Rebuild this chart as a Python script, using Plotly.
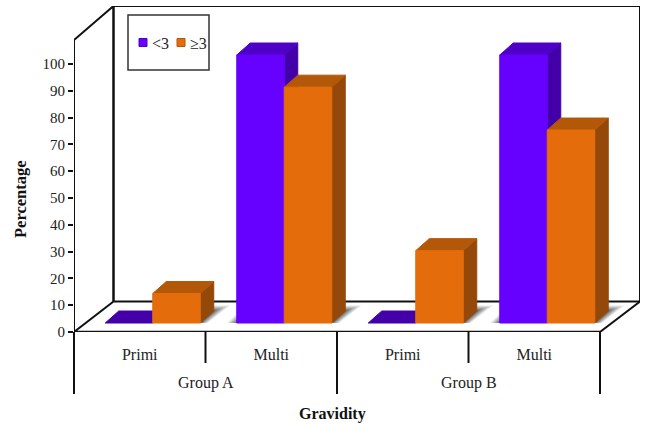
import plotly.graph_objects as go

# ---- data ----
categories = ["Primi", "Multi", "Primi", "Multi"]
groups = ["Group A", "Group B"]
series_names = ["<3", "≥3"]
values_lt3 = [0, 100, 0, 100]
values_ge3 = [11, 88, 27, 72]
y_ticks = list(range(0, 101, 10))

# ---- geometry / style ----
W, H = 645, 425
L, R, T, B = 74, 640, 6, 332          # plot area in px
CAT_PX = 131.5                         # px per category on the front axis
UNIT_PX = 2.68                         # px per percentage point
XMAX = (R - L) / CAT_PX
YMAX = (B - T) / UNIT_PX
FONT = "Liberation Serif"
TXT = "#222222"
BLACK = "#111111"


def dx(px):
    return px / CAT_PX


def dy(px):
    return px / UNIT_PX


def pxp(x):
    return (x - L) / (R - L)


def pyp(y):
    return (B - y) / (B - T)


WALL_DX, WALL_DY = dx(39.5), dy(30.5)   # floor depth
BAR_W = dx(47.5)
SHIFT_X, SHIFT_Y = dx(13), dy(9)        # bar front relative to axis
DEPTH_X, DEPTH_Y = dx(13.5), dy(12)     # bar depth

COL = [
    dict(front="#6600FF", side="#4300A8", top="#4F00C6"),
    dict(front="#E46C0A", side="#94480A", top="#B25808"),
]

fig = go.Figure()


def poly(xs, ys, color, lw=1.0, line=None):
    fig.add_trace(go.Scatter(
        x=xs + xs[:1], y=ys + ys[:1], mode="lines", fill="toself",
        fillcolor=color, line=dict(color=line or color, width=lw),
        hoverinfo="skip", showlegend=False))


def seg(xs, ys, width=2):
    fig.add_trace(go.Scatter(
        x=xs, y=ys, mode="lines", line=dict(color=BLACK, width=width),
        hoverinfo="skip", showlegend=False, cliponaxis=False))


# walls and floor edges
n = len(categories)
seg([WALL_DX, WALL_DX, XMAX, XMAX], [WALL_DY, YMAX, YMAX, WALL_DY], 2)
seg([WALL_DX, XMAX], [WALL_DY, WALL_DY], 2)
seg([0, 0, WALL_DX, WALL_DX], [0, dy(292), YMAX, WALL_DY], 2)
seg([0, WALL_DX], [0, WALL_DY], 2)
seg([n, XMAX], [0, WALL_DY], 2)
seg([0, n], [0, 0], 2.5)

# soft floor shadows
for i in range(n):
    for j, vals in enumerate((values_lt3, values_ge3)):
        if vals[i] == 0:
            continue
        x0 = i + 0.5 + SHIFT_X - (BAR_W if j == 0 else 0)
        x1 = x0 + BAR_W
        for k, a in ((16, 0.12), (13, 0.16), (10, 0.20), (7, 0.24), (4, 0.28), (2, 0.30)):
            e = dx(k)
            poly([x0 - e * 0.6, x1 + e * 0.45, x1 + e + DEPTH_X, x0 - e * 0.3 + DEPTH_X],
                 [SHIFT_Y, SHIFT_Y, SHIFT_Y + DEPTH_Y + dy(k * 0.35), SHIFT_Y + DEPTH_Y + dy(k * 0.35)],
                 f"rgba(60,60,60,{a})", lw=0, line="rgba(0,0,0,0)")

# bars, back to front, left to right
for i in range(n):
    for j, vals in enumerate((values_lt3, values_ge3)):
        v = vals[i]
        c = COL[j]
        x0 = i + 0.5 + SHIFT_X - (BAR_W if j == 0 else 0)
        x1 = x0 + BAR_W
        y0 = SHIFT_Y
        y1 = SHIFT_Y + v
        # side face
        if v > 0:
            poly([x1, x1 + DEPTH_X, x1 + DEPTH_X, x1],
                 [y0, y0 + DEPTH_Y, y1 + DEPTH_Y, y1], c["side"])
        # top face
        poly([x0, x1, x1 + DEPTH_X, x0 + DEPTH_X],
             [y1, y1, y1 + DEPTH_Y, y1 + DEPTH_Y], c["top"] if v > 0 else c["side"], lw=1)
        # front face
        if v > 0:
            poly([x0, x1, x1, x0], [y0, y0, y1, y1], c["front"])

# dividers below the axis
shapes = []


def vline(x_cat, y_end):
    xp = x_cat * CAT_PX / (R - L)
    shapes.append(dict(type="line", xref="paper", yref="paper", x0=xp, x1=xp,
                       y0=0, y1=pyp(y_end), line=dict(color=BLACK, width=2)))


for c in (0, 2, 4):
    vline(c, 394)
for c in (1, 3):
    vline(c, 363)

# legend box and swatches
shapes.append(dict(type="rect", xref="paper", yref="paper", x0=pxp(128), x1=pxp(209),
                   y0=pyp(70), y1=pyp(15), line=dict(color="#333333", width=1.5),
                   fillcolor="white"))
for sx, c in ((139, COL[0]), (177, COL[1])):
    shapes.append(dict(type="rect", xref="paper", yref="paper", x0=pxp(sx), x1=pxp(sx + 8),
                       y0=pyp(46.5), y1=pyp(38.5), line=dict(color=c["top"], width=1),
                       fillcolor=c["front"]))

ann = []


def text(x, y, s, size=15, bold=False, angle=0, anchor="center"):
    ann.append(dict(xref="paper", yref="paper", x=pxp(x), y=pyp(y), text=f"<b>{s}</b>" if bold else s,
                    showarrow=False, xanchor=anchor, yanchor="middle", textangle=angle,
                    font=dict(family=FONT, size=size, color=TXT if not bold else "#111111")))


text(150, 43, "&lt;3", 16, anchor="left")
text(188, 43, series_names[1], 16, anchor="left")
text(L + CAT_PX, 383, groups[0], 16)
text(L + 3 * CAT_PX, 383, groups[1], 16)
text(332, 414, "Gravidity", 16, bold=True)
text(20, 199, "Percentage", 16.5, bold=True, angle=-90)

fig.update_layout(
    width=W, height=H, autosize=False,
    margin=dict(l=L, r=W - R, t=T, b=H - B, pad=0),
    paper_bgcolor="white", plot_bgcolor="white",
    showlegend=False, shapes=shapes, annotations=ann,
    xaxis=dict(range=[0, XMAX], showgrid=False, zeroline=False, showline=False,
               tickmode="array", tickvals=[i + 0.5 for i in range(n)], ticktext=categories,
               ticks="outside", ticklen=8, tickcolor="rgba(0,0,0,0)",
               tickfont=dict(family=FONT, size=16, color=TXT)),
    yaxis=dict(range=[0, YMAX], showgrid=False, zeroline=False, showline=False,
               tickmode="array", tickvals=y_ticks, ticktext=[str(t) for t in y_ticks],
               ticks="outside", ticklen=5, tickwidth=2, tickcolor=BLACK,
               tickfont=dict(family=FONT, size=15, color=TXT)),
)

fig.write_html("out.html", config={"displayModeBar": False},
               post_script="document.body.style.margin='0';document.body.style.overflow='hidden';")
